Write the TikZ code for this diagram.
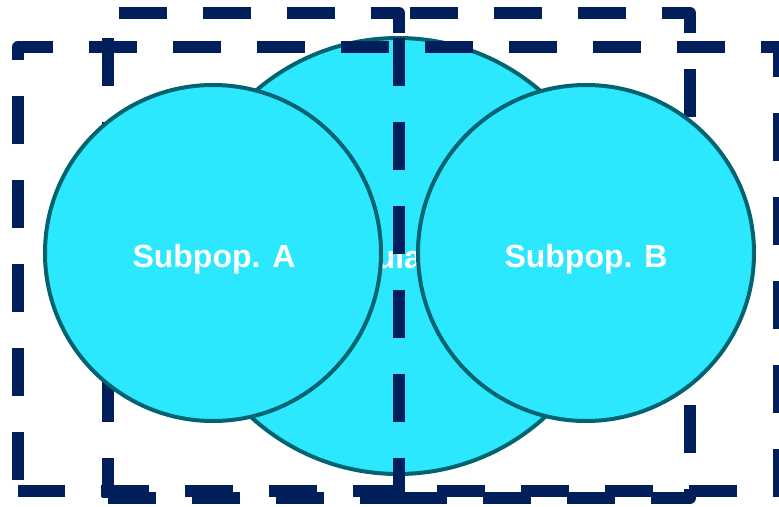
\documentclass[tikz,border=0pt]{standalone}
\usepackage{fontspec}
\setmainfont{Liberation Sans}
\definecolor{popcyan}{RGB}{43,232,255}
\definecolor{popedge}{RGB}{0,100,112}
\definecolor{framenavy}{RGB}{0,31,91}
\begin{document}
\begin{tikzpicture}[x=1pt,y=-1pt,
  popfill/.style={circle, fill=popcyan, draw=popedge, line width=4pt, inner sep=0pt},
  frame/.style={draw=framenavy, line width=12pt, line cap=butt, line join=round,
                dash pattern=on 48pt off 36pt},
  lbl/.style={text=white, font=\bfseries\fontsize{32}{38}\selectfont, anchor=base, inner sep=0pt}]
\useasboundingbox (0,0) rectangle (779,506);

% left sampling frame, lying under the population
\draw[frame, dash phase=8pt] (108,498) -- (108,13) -- (399,13) -- (399,498) -- cycle;

% the population
\node[popfill, minimum size=436pt] (pop) at (398,256) {};
\node[lbl] (poplabel) at (398,268) {Population};

% right sampling frame and the outer frame
\draw[frame, dash phase=8pt] (399,498) -- (399,13) -- (690,13) -- (690,498) -- cycle;
\draw[frame, dash phase=73pt] (18,491) -- (18,47) -- (779,47) -- (779,491) -- cycle;

% the two subpopulations
\node[popfill, minimum size=336pt] (suba) at (213,253) {};
\node[popfill, minimum size=336pt] (subb) at (586,253) {};
\node[lbl] (subalabel) at (214,267) {Subpop. A};
\node[lbl] (subblabel) at (586,267) {Subpop. B};
\end{tikzpicture}
\end{document}
